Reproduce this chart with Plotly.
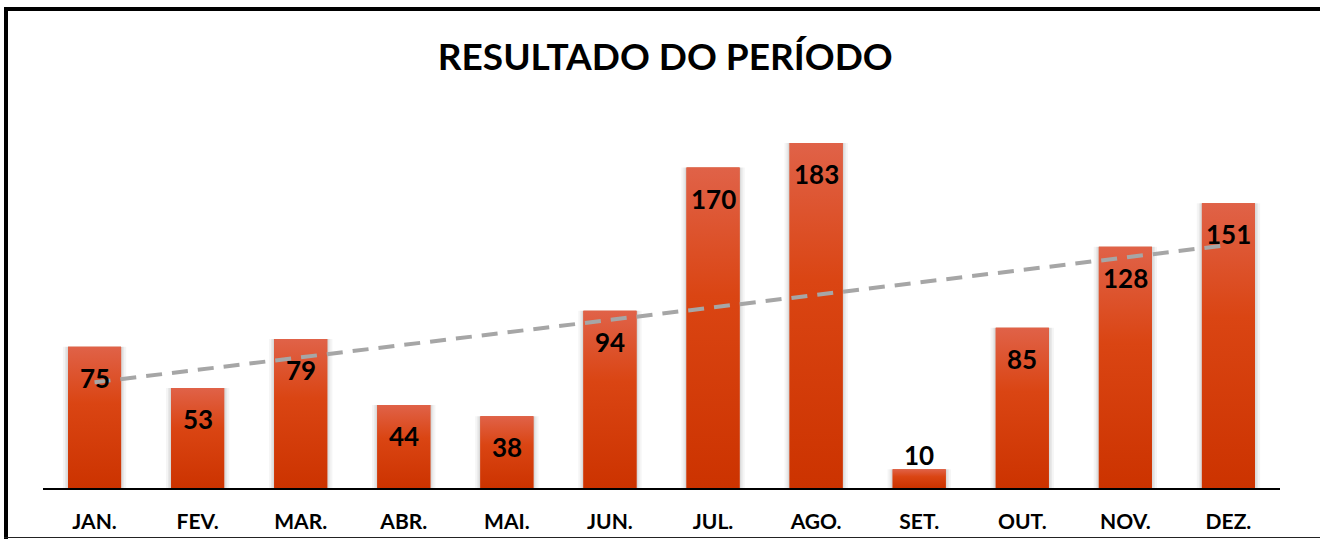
import numpy as np
import plotly.graph_objects as go

months = ["JAN.", "FEV.", "MAR.", "ABR.", "MAI.", "JUN.", "JUL.", "AGO.", "SET.", "OUT.", "NOV.", "DEZ."]
values = [75, 53, 79, 44, 38, 94, 170, 183, 10, 85, 128, 151]
title_text = "RESULTADO DO PERÍODO"

W, H = 1320, 539
L, R, T, B = 43, 40, 111, 51
YMAX = 200
BAR_W = 0.515
FONT = "Lato"

idx = np.arange(len(values))
fig = go.Figure()

# soft glow behind bars
for extra, alpha in [(0.10, 0.04), (0.06, 0.05), (0.03, 0.06)]:
    fig.add_trace(go.Bar(x=idx, y=values, width=BAR_W + extra,
                         marker=dict(color=f"rgba(0,0,0,{alpha})", line=dict(width=0)),
                         hoverinfo="skip", showlegend=False))

# base bars (solid)
fig.add_trace(go.Bar(x=idx, y=values, width=BAR_W, marker=dict(color="#D8451A", line=dict(width=0)),
                     hoverinfo="skip", showlegend=False))

# gradient overlay for each bar
for i, v in zip(idx, values):
    x0, x1 = i - BAR_W / 2, i + BAR_W / 2
    fig.add_trace(go.Scatter(
        x=[x0, x1, x1, x0, x0], y=[0, 0, v, v, 0], mode="lines", fill="toself",
        line=dict(width=0, color="rgba(0,0,0,0)"),
        fillgradient=dict(type="vertical", colorscale=[[0, "#CC3300"], [0.6, "#DA4513"], [1, "#E06248"]]),
        hoverinfo="skip", showlegend=False))

# linear trend line
slope, intercept = np.polyfit(idx + 1, values, 1)
trend = slope * (idx + 1) + intercept
fig.add_trace(go.Scatter(x=idx, y=trend, mode="lines",
                         line=dict(color="#A6A6A6", width=4, dash="16px,10px"),
                         hoverinfo="skip", showlegend=False))

# data labels
px_per_unit = (H - T - B) / YMAX
for i, v in zip(idx, values):
    inside = v * px_per_unit > 50
    fig.add_annotation(x=i, y=v, text=f"<b>{v}</b>", showarrow=False,
                       yanchor="middle" if inside else "bottom",
                       yshift=-31 if inside else -4,
                       font=dict(family=FONT, size=26, color="#000000"))

# chart border
def px_x(p):
    return (p - L) / (W - L - R)

def px_y(p):
    return (H - B - p) / (H - T - B)

fig.add_shape(type="line", xref="paper", yref="paper", x0=px_x(4), x1=px_x(W), y0=px_y(9), y1=px_y(9),
              line=dict(color="#000000", width=4))
fig.add_shape(type="line", xref="paper", yref="paper", x0=px_x(6), x1=px_x(6), y0=px_y(7), y1=px_y(H),
              line=dict(color="#000000", width=4))
fig.add_shape(type="line", xref="paper", yref="paper", x0=px_x(4), x1=px_x(W), y0=px_y(537.5), y1=px_y(537.5),
              line=dict(color="#222222", width=1))

fig.update_layout(
    width=W, height=H, autosize=False,
    margin=dict(l=L, r=R, t=T, b=B, pad=0, autoexpand=False),
    paper_bgcolor="white", plot_bgcolor="white",
    title=dict(text=f"<b>{title_text}</b>", x=0.504, xanchor="center", y=1 - 57 / H, yanchor="middle",
               yref="container", font=dict(family=FONT, size=37, color="#000000")),
    xaxis=dict(range=[-0.5, len(values) - 0.5], tickvals=idx, ticktext=[f"<b>{m}</b>" for m in months],
               showline=True, linecolor="#000000", linewidth=2, showgrid=False, zeroline=False,
               ticks="outside", ticklen=14, tickcolor="rgba(0,0,0,0)", automargin=False,
               tickfont=dict(family=FONT, size=21, color="#000000"), fixedrange=True),
    yaxis=dict(range=[0, YMAX], visible=False, fixedrange=True, automargin=False),
    showlegend=False,
    barmode="overlay",
)

fig.write_html("out.html", config={"displayModeBar": False, "responsive": False},
               post_script=("document.body.style.margin='0';"
                            "document.body.style.overflow='hidden';"
                            "document.documentElement.style.overflow='hidden';"))
